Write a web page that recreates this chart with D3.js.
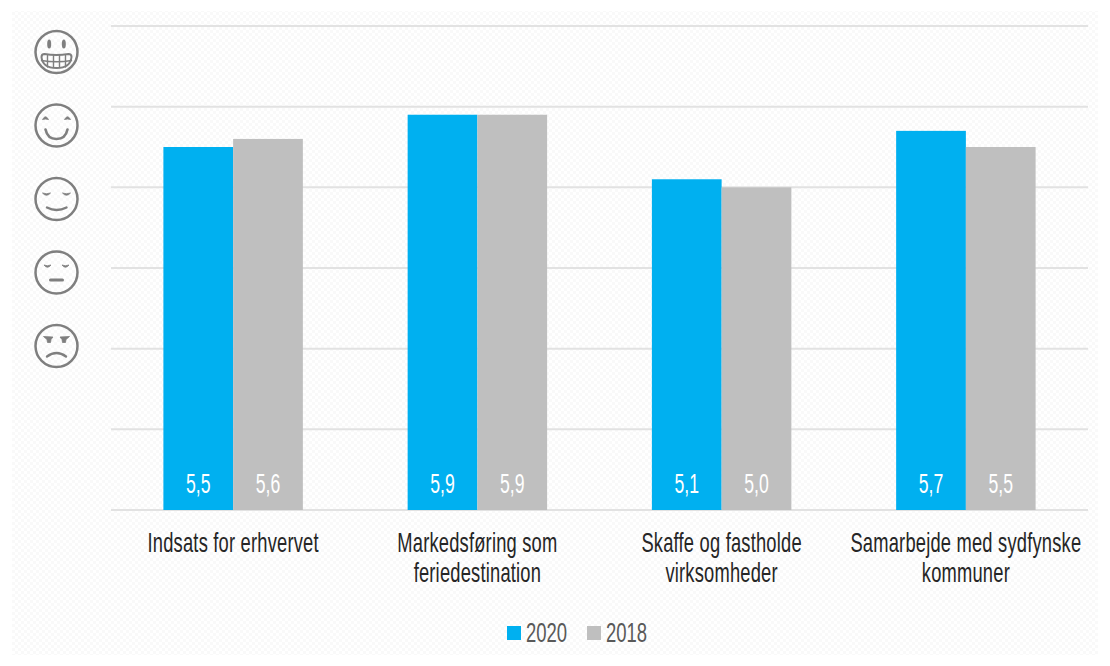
<!DOCTYPE html>
<html>
<head>
<meta charset="utf-8">
<script src="https://cdn.jsdelivr.net/npm/d3@7"></script>
<style>
html,body{margin:0;padding:0;background:#fff}
svg{display:block}
text{font-family:"Liberation Sans",sans-serif}
</style>
</head>
<body>
<svg id="chart" width="1110" height="666"></svg>
<script>
// Satisfaction scores per topic, 1–7 scale
const categories = [
  ["Indsats for erhvervet"],
  ["Markedsføring som", "feriedestination"],
  ["Skaffe og fastholde", "virksomheder"],
  ["Samarbejde med sydfynske", "kommuner"]
];
const seriesNames = ["2020", "2018"];
const values2020 = [5.5, 5.9, 5.1, 5.7];
const values2018 = [5.6, 5.9, 5.0, 5.5];
const gridValues = [1, 2, 3, 4, 5, 6, 7];
const colors = ["#00b0f0", "#bfbfbf"];
const faceNames = ["grin", "smile", "content", "neutral", "sad"];

const svg = d3.select("#chart");
const defs = svg.append("defs");
const pat = defs.append("pattern").attr("id", "weave")
  .attr("width", 6).attr("height", 6).attr("patternUnits", "userSpaceOnUse");
pat.append("rect").attr("width", 6).attr("height", 6).attr("fill", "#ffffff");
pat.append("rect").attr("width", 3).attr("height", 3).attr("fill", "#f9f9f9");
pat.append("rect").attr("x", 3).attr("y", 3).attr("width", 3).attr("height", 3).attr("fill", "#f9f9f9");
svg.append("rect").attr("x", 12).attr("y", 11).attr("width", 1086).attr("height", 644).attr("fill", "url(#weave)");

const y = d3.scaleLinear().domain([1, 7]).range([510, 26]);
const x0 = d3.scaleBand().domain(d3.range(categories.length)).range([111, 1088])
  .paddingInner(0.429).paddingOuter(0.2145);
const x1 = d3.scaleBand().domain(seriesNames).range([0, x0.bandwidth()]);

// Horizontal gridlines
svg.append("g").selectAll("line").data(gridValues).join("line")
  .attr("x1", 111).attr("x2", 1088)
  .attr("y1", d => y(d)).attr("y2", d => y(d))
  .attr("stroke", "#e2e2e2").attr("stroke-width", 2);

// Grouped bars with value labels at their foot
const fmt = v => v.toFixed(1).replace(".", ",");
[values2020, values2018].forEach((vals, s) => {
  const g = svg.append("g");
  g.selectAll("rect").data(vals).join("rect")
    .attr("x", (d, i) => x0(i) + x1(seriesNames[s]))
    .attr("y", d => y(d))
    .attr("width", x1.bandwidth())
    .attr("height", d => y(1) - y(d))
    .attr("fill", colors[s]);
  g.selectAll("text").data(vals).join("text")
    .attr("transform", (d, i) => `translate(${x0(i) + x1(seriesNames[s]) + x1.bandwidth() / 2},493) scale(0.63,1)`)
    .attr("text-anchor", "middle")
    .attr("font-size", 28)
    .attr("fill", "#ffffff")
    .text(fmt);
});

// Category labels, condensed horizontally
const catG = svg.append("g");
categories.forEach((lines, i) => {
  lines.forEach((line, k) => {
    catG.append("text")
      .attr("transform", `translate(${x0(i) + x0.bandwidth() / 2},${552 + k * 30}) scale(0.655,1)`)
      .attr("text-anchor", "middle")
      .attr("font-size", 28)
      .attr("letter-spacing", 0.3)
      .attr("fill", "#262626")
      .text(line);
  });
});

// Legend
const legendX = [507, 587];
seriesNames.forEach((name, s) => {
  svg.append("rect").attr("x", legendX[s]).attr("y", 626).attr("width", 14).attr("height", 14).attr("fill", colors[s]);
  svg.append("text")
    .attr("transform", `translate(${legendX[s] + 19},642) scale(0.66,1)`)
    .attr("font-size", 28)
    .attr("fill", "#595959")
    .text(name);
});

// Mood scale drawn down the left side
const faceY = d3.scalePoint().domain(faceNames).range([52, 346]);
const stroke = "#7f7f7f";
function arc(g, d, w) {
  g.append("path").attr("d", d).attr("fill", "none").attr("stroke", stroke)
    .attr("stroke-width", w).attr("stroke-linecap", "round");
}
function lid(g, d) {
  g.append("path").attr("d", d).attr("fill", stroke).attr("stroke", stroke)
    .attr("stroke-width", 0.8).attr("stroke-linejoin", "round");
}
const features = {
  grin(g) {
    g.append("ellipse").attr("cx", -7.3).attr("cy", -8).attr("rx", 2).attr("ry", 4.5).attr("fill", stroke);
    g.append("ellipse").attr("cx", 7.3).attr("cy", -8).attr("rx", 2).attr("ry", 4.5).attr("fill", stroke);
    arc(g, "M-15,5 Q-15,2 -12,2 Q0,4 12,2 Q15,2 15,5 Q14,16 0,16 Q-14,16 -15,5 Z", 2);
    arc(g, "M-15,8.5 Q0,11 15,8.5", 1.4);
    [-9, -3, 3, 9].forEach(t => arc(g, `M${t},3.5 V15`, 1.4));
  },
  smile(g) {
    lid(g, "M-14,-6 Q-11,-11.5 -8,-6 Q-11,-7 -14,-6 Z");
    lid(g, "M8,-6 Q11,-11.5 14,-6 Q11,-7 8,-6 Z");
    arc(g, "M-11,4 Q-9,13.5 0,13.5 Q9,13.5 11,4", 2.6);
  },
  content(g) {
    lid(g, "M-14,-6 Q-10,-4.5 -6,-6 Q-10,-1.5 -14,-6 Z");
    lid(g, "M6,-6 Q10,-4.5 14,-6 Q10,-1.5 6,-6 Z");
    arc(g, "M-9.5,8.5 Q0,13.5 10,8.5", 2.4);
  },
  neutral(g) {
    lid(g, "M-12.5,-7.5 Q-9,-6 -5.5,-7.5 Q-9,-3 -12.5,-7.5 Z");
    lid(g, "M5.5,-7.5 Q9,-6 12.5,-7.5 Q9,-3 5.5,-7.5 Z");
    arc(g, "M-6,7.5 H6", 3);
  },
  sad(g) {
    lid(g, "M-13,-9.5 L-3.5,-9 L-5.5,-6.5 L-6,-3.5 L-9,-3.5 L-9.5,-6.5 Z");
    lid(g, "M13,-9.5 L3.5,-9 L5.5,-6.5 L6,-3.5 L9,-3.5 L9.5,-6.5 Z");
    arc(g, "M-9.5,10.5 Q0,3.5 9.5,10.5", 2.4);
  }
};
faceNames.forEach(name => {
  const g = svg.append("g").attr("transform", `translate(56.5,${faceY(name)})`);
  g.append("circle").attr("r", 21).attr("fill", "none").attr("stroke", stroke).attr("stroke-width", 2.5);
  features[name](g);
});
</script>
</body>
</html>
